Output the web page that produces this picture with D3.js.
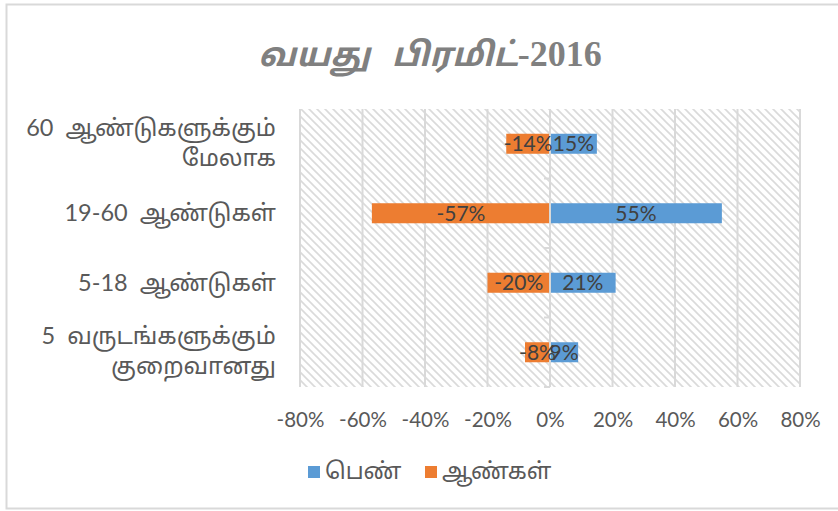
<!DOCTYPE html>
<html><head><meta charset="utf-8">
<script src="https://cdn.jsdelivr.net/npm/d3@7"></script>
<style>
body{margin:0;background:#fff;}
svg{display:block;}
text{white-space:pre;}
</style></head>
<body>
<svg id="chart" width="838" height="511"></svg>
<script>
const categories = [
  ["60  ஆண்டுகளுக்கும்","மேலாக"],
  ["19-60  ஆண்டுகள்"],
  ["5-18  ஆண்டுகள்"],
  ["5  வருடங்களுக்கும்","குறைவானது"]
];
const female = [0.15, 0.55, 0.21, 0.09];
const male = [-0.14, -0.57, -0.20, -0.08];
const femaleLabels = ["15%","55%","21%","9%"];
const maleLabels = ["-14%","-57%","-20%","-8%"];
const ticks = [-0.8,-0.6,-0.4,-0.2,0,0.2,0.4,0.6,0.8];
const seriesNames = ["பெண்","ஆண்கள்"];
const colors = ["#5b9bd5","#ed7d31"];
const titleMain = "வயது   பிரமிட்";
const titleYear = "-2016";

(function(){
const svg = d3.select("#chart");
const font = "Lato, 'Noto Sans Tamil', 'Noto Sans', sans-serif";

// chart border
svg.append("rect").attr("x",6.5).attr("y",4.5).attr("width",838).attr("height",504)
  .attr("fill","#fff").attr("stroke","#d9d9d9").attr("stroke-width",2);

const pLeft=300, pRight=800, pTop=109, pBottom=387;
const x = d3.scaleLinear().domain([-0.8,0.8]).range([pLeft,pRight]);
const y = d3.scaleBand().domain(d3.range(categories.length)).range([pTop,pBottom]).paddingInner(0.712).paddingOuter(0.356);

// pattern
const defs = svg.append("defs");
const pat = defs.append("pattern").attr("id","hatch").attr("patternUnits","userSpaceOnUse")
  .attr("width",8).attr("height",8);
pat.append("rect").attr("width",8).attr("height",8).attr("fill","#fff");
pat.append("path").attr("d","M-2,-2 L10,10 M-2,6 L2,10 M6,-2 L10,2")
  .attr("stroke","#dadada").attr("stroke-width",1.6);
svg.append("rect").attr("x",pLeft).attr("y",pTop).attr("width",pRight-pLeft).attr("height",pBottom-pTop)
  .attr("fill","url(#hatch)");

// gridlines
svg.append("g").selectAll("line").data(ticks).join("line")
  .attr("x1",d=>x(d)).attr("x2",d=>x(d)).attr("y1",pTop).attr("y2",pBottom)
  .attr("stroke","#d9d9d9").attr("stroke-width",2);

// x axis labels
const xAxis = d3.axisBottom(x).tickValues(ticks).tickFormat(d=>Math.round(d*100)+"%").tickSize(0).tickPadding(0);
const gx = svg.append("g").attr("transform",`translate(0,${pBottom+25})`).call(xAxis);
gx.select(".domain").remove();
gx.selectAll("text").attr("font-family",font).attr("font-size",20.5).attr("fill","#595959");

// bars
const bh = y.bandwidth();
svg.append("g").selectAll("rect").data(female).join("rect")
  .attr("x",x(0)).attr("y",(d,i)=>y(i)).attr("width",d=>x(d)-x(0)).attr("height",bh).attr("fill",colors[0]);
svg.append("g").selectAll("rect").data(male).join("rect")
  .attr("x",d=>x(d)).attr("y",(d,i)=>y(i)).attr("width",d=>x(0)-x(d)).attr("height",bh).attr("fill",colors[1]);

// zero axis line with ticks
svg.append("line").attr("x1",x(0)).attr("x2",x(0)).attr("y1",pTop).attr("y2",pBottom)
  .attr("stroke","#d9d9d9").attr("stroke-width",2);
const tickYs = d3.range(1,categories.length+1).map(i=> pTop + (pBottom-pTop)*i/categories.length);
svg.append("g").selectAll("line").data(tickYs).join("line")
  .attr("x1",x(0)-6).attr("x2",x(0)).attr("y1",d=>d).attr("y2",d=>d)
  .attr("stroke","#d9d9d9").attr("stroke-width",2);

// data labels
svg.append("g").selectAll("text").data(female).join("text")
  .attr("x",d=>(x(d)+x(0))/2).attr("y",(d,i)=>y(i)+bh/2).attr("dy","0.36em")
  .attr("text-anchor","middle").attr("font-family",font).attr("font-size",21).attr("fill","#404040")
  .text((d,i)=>femaleLabels[i]);
svg.append("g").selectAll("text").data(male).join("text")
  .attr("x",d=>(x(d)+x(0))/2).attr("y",(d,i)=>y(i)+bh/2).attr("dy","0.36em")
  .attr("text-anchor","middle").attr("font-family",font).attr("font-size",21).attr("fill","#404040")
  .text((d,i)=>maleLabels[i]);

// y category labels
const gy = svg.append("g");
categories.forEach((lines,i)=>{
  const cy = y(i)+bh/2;
  const lh = 30;
  const t = gy.append("text").attr("text-anchor","end").attr("font-family",font)
    .attr("font-size",23.5).attr("fill","#595959");
  lines.forEach((ln,j)=>{
    t.append("tspan").attr("x",276)
      .attr("y", cy + (j-(lines.length-1)/2)*lh - (lines.length>1?1:0)).attr("dy","0.35em").text(ln);
  });
});

// title
const tt = svg.append("text").attr("x",430).attr("y",66).attr("text-anchor","middle")
  .attr("font-weight","bold").attr("fill","#808080");
tt.append("tspan").attr("font-family",font).attr("font-style","italic").attr("font-size",33).text(titleMain);
tt.append("tspan").attr("font-family","'Liberation Serif', 'Times New Roman', serif").attr("font-size",36).text(titleYear);

// legend
const lg = svg.append("g");
const legendX = [308, 425];
seriesNames.forEach((n,i)=>{
  lg.append("rect").attr("x",legendX[i]).attr("y",466).attr("width",12).attr("height",12).attr("fill",colors[i]);
  lg.append("text").attr("x",legendX[i]+17).attr("y",471).attr("dy","0.35em")
    .attr("font-family",font).attr("font-size",23).attr("fill","#595959").text(n);
});
})();
</script>
</body></html>
